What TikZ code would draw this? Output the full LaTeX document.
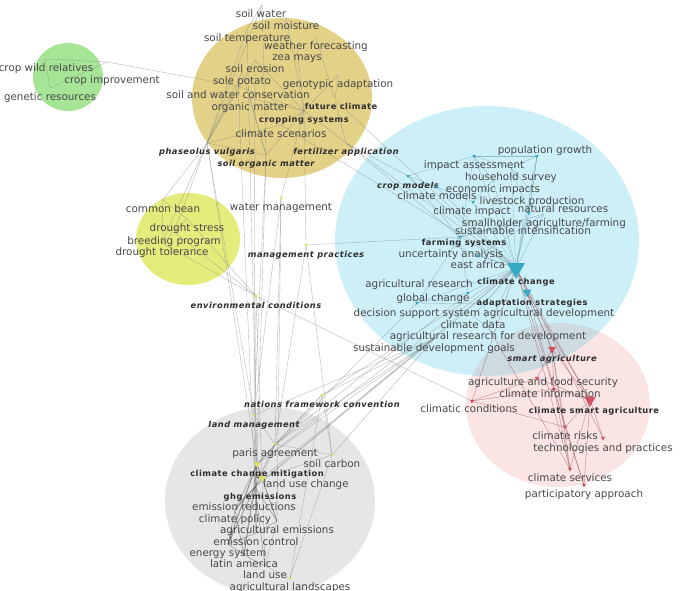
\documentclass[tikz,border=0pt]{standalone}
\usepackage{fontspec}
\setmainfont{DejaVu Sans}
\newfontfamily\kwfont[LetterSpace=6,BoldFont={DejaVu Sans Bold},ItalicFont={DejaVu Sans Oblique},BoldItalicFont={DejaVu Sans Bold Oblique}]{DejaVu Sans}
\definecolor{cgreen}{RGB}{166,228,150}
\definecolor{cyellow}{RGB}{227,209,136}
\definecolor{clime}{RGB}{228,236,124}
\definecolor{cblue}{RGB}{205,239,248}
\definecolor{cpink}{RGB}{251,228,228}
\definecolor{cmix}{RGB}{204,218,226}
\definecolor{cgray}{RGB}{230,230,230}
\definecolor{txt}{RGB}{72,72,72}
\definecolor{txtb}{RGB}{45,45,45}
\definecolor{mblue}{RGB}{55,170,195}
\definecolor{mpink}{RGB}{210,80,95}
\definecolor{myel}{RGB}{222,225,90}
\definecolor{eg}{RGB}{130,130,130}
\definecolor{ebl}{RGB}{95,150,165}
\definecolor{epk}{RGB}{150,85,95}
\pgfdeclarelayer{bg}
\pgfdeclarelayer{edges}
\pgfsetlayers{bg,edges,main}
\newcommand\T[5]{\node[#4] (t-#1) at (#2,#3) {#5};\coordinate (#1) at (#2,#3-9);}
\newcommand\mk[3]{\fill[#3] ([shift={(-#2,-0.55*#2)}]#1) -- ([shift={(#2,-0.55*#2)}]#1) -- ([shift={(0,1.2*#2)}]#1) -- cycle;}
\begin{document}
\begin{tikzpicture}[x=1pt,y=-1pt,
  lab/.style={text=txt,font=\fontsize{10.35}{12}\selectfont,inner sep=0pt,text height=9.5pt,text depth=2pt},
  kb/.style={text=txtb,font=\kwfont\bfseries\fontsize{8.3}{10}\selectfont,inner sep=0pt,text height=7.5pt,text depth=1.5pt},
  kbi/.style={kb,font=\kwfont\bfseries\itshape\fontsize{8.3}{10}\selectfont},
  edge/.style={draw=eg,line width=0.35pt,opacity=0.6},
  dedge/.style={draw=black!70,line width=0.5pt,opacity=0.55},
  bedge/.style={draw=ebl,line width=0.35pt,opacity=0.6},
  pedge/.style={draw=epk,line width=0.4pt,opacity=0.65}]
\useasboundingbox (0,0) rectangle (680,591);
\begin{pgfonlayer}{bg}
\fill[white] (0,0) rectangle (680,591);
\fill[cgreen] (68,77) ellipse [x radius=35pt,y radius=34pt];
\fill[cyellow] (282,98) ellipse [x radius=90pt,y radius=80pt];
\fill[clime] (188,239) ellipse [x radius=52pt,y radius=46pt];
\fill[cgray] (270,501) ellipse [x radius=105pt,y radius=94pt];
\fill[cpink] (558,405) ellipse [x radius=92pt,y radius=82pt];
\fill[cblue] (487,241) ellipse [x radius=152pt,y radius=135pt];
\begin{scope}
\clip (558,405) ellipse [x radius=92pt,y radius=82pt];
\fill[cmix] (487,241) ellipse [x radius=152pt,y radius=135pt];
\end{scope}
\end{pgfonlayer}
% green
\T{cwr}{46}{68}{lab}{crop wild relatives}
\T{cimp}{112}{80}{lab}{crop improvement}
\T{gres}{50}{97}{lab}{genetic resources}
% yellow
\T{sw}{261}{14}{lab}{soil water}
\T{smo}{286}{26}{lab}{soil moisture}
\T{stp}{247}{38}{lab}{soil temperature}
\T{wfc}{316}{46}{lab}{weather forecasting}
\T{zm}{297}{57}{lab}{zea mays}
\T{ser}{255}{69}{lab}{soil erosion}
\T{spo}{242}{81}{lab}{sole potato}
\T{gad}{338}{84}{lab}{genotypic adaptation}
\T{swc}{238}{95}{lab}{soil and water conservation}
\T{om}{250}{107}{lab}{organic matter}
\T{fcl}{341}{107}{kb}{future climate}
\T{csys}{304}{120}{kb}{cropping systems}
\T{cscn}{281}{134}{lab}{climate scenarios}
\T{pv}{207}{152}{kbi}{phaseolus vulgaris}
\T{fap}{346}{152}{kbi}{fertilizer application}
\T{som}{266}{164}{kbi}{soil organic matter}
% lime
\T{cb}{163}{209}{lab}{common bean}
\T{dst}{187}{228}{lab}{drought stress}
\T{bp}{174}{241}{lab}{breeding program}
\T{dtl}{162}{252}{lab}{drought tolerance}
\T{wm}{281}{207}{lab}{water management}
\T{mp}{306}{254}{kbi}{management practices}
\T{env}{256}{305}{kbi}{environmental conditions}
% blue
\T{pg}{545}{150}{lab}{population growth}
\T{ia}{474}{165}{lab}{impact assessment}
\T{hs}{511}{177}{lab}{household survey}
\T{cm}{408}{185}{kbi}{crop models}
\T{ei}{493}{189}{lab}{economic impacts}
\T{clmo}{437}{196}{lab}{climate models}
\T{lsp}{532}{201}{lab}{livestock production}
\T{cimpact}{472}{211}{lab}{climate impact}
\T{nr}{563}{209}{lab}{natural resources}
\T{sh}{544}{223}{lab}{smallholder agriculture/farming}
\T{si}{523}{231}{lab}{sustainable intensification}
\T{fs}{464}{242}{kb}{farming systems}
\T{ua}{451}{254}{lab}{uncertainty analysis}
\T{ea}{478}{265}{lab}{east africa}
\T{cc}{516}{281}{kb}{climate change}
\T{ar}{419}{284}{lab}{agricultural research}
\T{gc}{433}{298}{lab}{global change}
\T{as}{532}{302}{kb}{adaptation strategies}
\T{dss}{484}{313}{lab}{decision support system agricultural development}
\T{cd}{473}{325}{lab}{climate data}
\T{ard}{488}{336}{lab}{agricultural research for development}
\T{sdg}{434}{348}{lab}{sustainable development goals}
% pink
\T{sag}{552}{358}{kbi}{smart agriculture}
\T{afs}{543}{382}{lab}{agriculture and food security}
\T{cinf}{550}{394}{lab}{climate information}
\T{ccond}{469}{409}{lab}{climatic conditions}
\T{csa}{594}{410}{kb}{climate smart agriculture}
\T{cr}{565}{436}{lab}{climate risks}
\T{tp}{603}{448}{lab}{technologies and practices}
\T{cse}{570}{478}{lab}{climate services}
\T{pa}{584}{494}{lab}{participatory approach}
% gray
\T{nfc}{322}{404}{kbi}{nations framework convention}
\T{lm}{254}{424}{kbi}{land management}
\T{pag}{275}{453}{lab}{paris agreement}
\T{sc}{332}{464}{lab}{soil carbon}
\T{ccm}{257}{473}{kb}{climate change mitigation}
\T{luc}{306}{484}{lab}{land use change}
\T{ghg}{260}{496}{kb}{ghg emissions}
\T{er}{244}{507}{lab}{emission reductions}
\T{cpol}{235}{519}{lab}{climate policy}
\T{ae}{277}{530}{lab}{agricultural emissions}
\T{ecn}{256}{542}{lab}{emission control}
\T{es}{228}{553}{lab}{energy system}
\T{la}{244}{564}{lab}{latin america}
\T{lu}{265}{575}{lab}{land use}
\T{al}{290}{587}{lab}{agricultural landscapes}
% marker positions that differ from the default
\coordinate (cwr) at (45,59);
\coordinate (cimp) at (107,62);
\coordinate (gres) at (50,88);
\coordinate (pg) at (537,156);
\coordinate (cc) at (516,268);
\coordinate (as) at (527,292);
\coordinate (afs) at (537,378);
\coordinate (cinf) at (554,389);
\coordinate (ccond) at (472,401);
\coordinate (csa) at (590,400);
\coordinate (luc) at (262,478);
\coordinate (fcl) at (335,100);
\coordinate (sw) at (262,5);
\coordinate (cimpact) at (473,202);
\coordinate (nr) at (529,213);
\coordinate (fs) at (460,237);
\coordinate (ar) at (468,293);
\coordinate (gc) at (417,303);
\coordinate (tp) at (603,438);
\coordinate (ghg) at (255,487);
\begin{pgfonlayer}{edges}
\foreach \a/\b in {cwr/cimp,cwr/gres,gres/cimp,cimp/swc,
  sw/som,sw/stp,sw/pv,smo/csys,stp/pv,wfc/fcl,zm/csys,ser/csys,ser/pv,spo/pv,spo/som,
  swc/csys,swc/pv,om/som,om/csys,gad/fcl,gad/csys,csys/fap,csys/som,csys/cscn,cscn/pv,
  pv/som,fcl/fap,pv/cb,pv/dtl,pv/bp,csys/wm,mp/csys,
  cb/dst,dst/bp,bp/dtl,cb/dtl,dtl/env,bp/env,dst/env}
  \draw[edge] (\a) -- (\b);
\foreach \a/\b in {som/lm,som/ccm,pv/ccm,pv/lm,stp/ccm,swc/ghg,ser/lm,wm/lm,wm/ae,wm/pag,
  mp/sc,mp/pag,mp/fs,env/ccond,env/ghg,env/lu,fap/cm,fap/cc,fcl/cc,cscn/cc,fap/fs,
  sdg/pag,sdg/ccm,sdg/ghg,sdg/sc,sdg/luc,sdg/lm,nfc/cc,nfc/sdg,gc/ccm,ar/pag}
  \draw[edge] (\a) -- (\b);
\foreach \a/\b in {cc/ia,cc/pg,cc/hs,cc/cm,cc/ei,cc/clmo,cc/lsp,cc/cimpact,cc/nr,cc/sh,cc/si,
  cc/fs,cc/ua,cc/ea,cc/ar,cc/gc,cc/as,cc/dss,cc/cd,cc/ard,cc/sdg,
  cm/ia,cm/clmo,cm/fs,ia/pg,ia/hs,ia/ei,pg/hs,pg/nr,pg/lsp,hs/lsp,hs/nr,ei/cimpact,
  clmo/cimpact,fs/sh,fs/si,fs/ua,fs/ar,fs/gc,ar/gc,gc/dss,cd/ard,dss/ard,ea/sh,ia/fs}
  \draw[bedge] (\a) -- (\b);
\foreach \a/\b in {cc/sag,cc/csa,as/csa,as/sag,ard/cse,csa/afs,csa/cinf,csa/cr,csa/tp,csa/cse,
  csa/pa,csa/sag,sag/afs,sag/cinf,sag/cse,sag/cr,ccond/afs,ccond/cinf,ccond/cr,ccond/cc,
  cinf/cse,cr/pa,cc/cse,cc/pa,cc/tp,as/cr}
  \draw[pedge] (\a) -- (\b);
\foreach \a/\b in {nfc/pag,nfc/ccm,nfc/sc,lm/ccm,lm/ghg,lm/pag,pag/ccm,pag/ghg,pag/sc,pag/luc,
  pag/es,luc/ae,luc/sc,al/sc,al/nfc,lu/al,ae/lu,ccm/cc,ghg/cc}
  \draw[edge] (\a) -- (\b);
\foreach \a/\b in {ccm/ghg,ccm/luc,ccm/er,ccm/cpol,ccm/ae,ccm/ecn,ccm/es,ccm/la,ghg/er,
  ghg/cpol,ghg/ae,ghg/ecn,ghg/es,ghg/la,ghg/lu,er/cpol,er/es,cpol/es,cpol/la,ae/ecn,
  ecn/es,es/la,la/lu,luc/ghg}
  \draw[dedge] (\a) -- (\b);
\end{pgfonlayer}
% markers
\mk{cc}{9}{mblue}
\mk{as}{4.5}{mblue}
\foreach \p in {cm,ia,pg,cimpact,nr,fs,ar,gc,clmo,ea}{\mk{\p}{1.8}{mblue}}
\mk{csa}{5.5}{mpink}
\mk{sag}{4}{mpink}
\foreach \p in {afs,cinf,ccond,cr,tp,cse,pa}{\mk{\p}{2}{mpink}}
\foreach \p in {fcl,wm,mp,env,nfc,lm,pag,sc,al}{\mk{\p}{1.6}{myel}}
\mk{ccm}{3}{myel}
\mk{luc}{3.5}{myel}
\end{tikzpicture}
\end{document}
